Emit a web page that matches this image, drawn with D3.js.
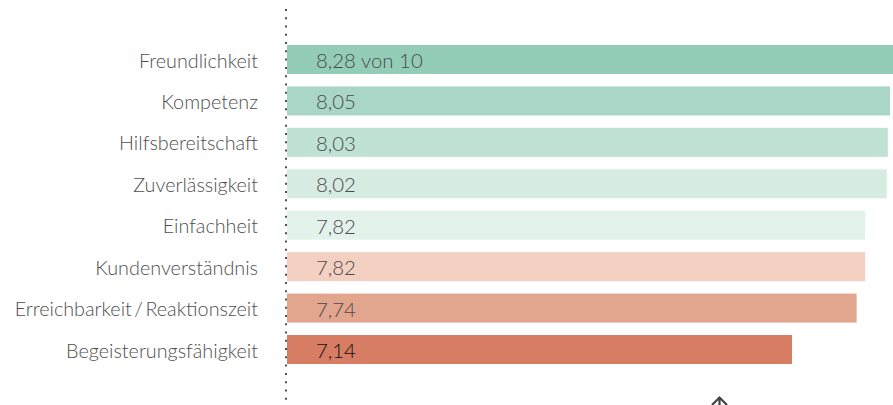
<!DOCTYPE html>
<html><head><meta charset="utf-8">
<script src="https://cdn.jsdelivr.net/npm/d3@7"></script>
<style>html,body{margin:0;padding:0;background:#fff;}svg{display:block;}</style>
</head><body>
<div id="chart"></div>
<script>
const categories = ["Freundlichkeit","Kompetenz","Hilfsbereitschaft","Zuverlässigkeit","Einfachheit","Kundenverständnis","Erreichbarkeit\u2009/\u2009Reaktionszeit","Begeisterungsfähigkeit"];
const values = [8.28, 8.05, 8.03, 8.02, 7.82, 7.82, 7.74, 7.14];
const valueSuffix = [" von 10", "", "", "", "", "", "", ""];
const colors = ["#93cdb8","#aad6c7","#c0e2d5","#d6ebe2","#e4f2ec","#f3d0c2","#e2a68f","#d67d64"];
const valueTextColors = ["#4a4a4a","#4a4a4a","#4a4a4a","#4a4a4a","#4a4a4a","#4a4a4a","#4a4a4a","#111111"];

const W = 893, H = 405;
const svg = d3.select("#chart").append("svg").attr("width", W).attr("height", H);

const x = d3.scaleLinear().domain([2.45, 10]).range([287, 1100]);
const y = d3.scaleBand().domain(categories).range([30.5, 378.5]).paddingInner(0.3).paddingOuter(0.35);
const fmt = v => d3.format(".2f")(v).replace(".", ",");

const data = categories.map((c, i) => ({c, v: values[i], s: valueSuffix[i], col: colors[i], tc: valueTextColors[i]}));

svg.append("g").selectAll("rect").data(data).join("rect")
  .attr("x", x.range()[0]).attr("y", d => y(d.c))
  .attr("width", d => x(d.v) - x.range()[0]).attr("height", y.bandwidth())
  .attr("fill", d => d.col);

// dotted axis line
svg.append("line")
  .attr("x1", 286).attr("x2", 286).attr("y1", 9).attr("y2", 400)
  .attr("stroke", "#505050").attr("stroke-width", 2)
  .attr("stroke-dasharray", "2 6.27");

// category labels
svg.append("g").selectAll("text").data(data).join("text")
  .attr("x", 258).attr("y", d => y(d.c) + y.bandwidth() / 2 + 8)
  .attr("text-anchor", "end")
  .style("font-family", "Lato, sans-serif").style("font-weight", 300).style("font-size", "19.8px")
  .attr("fill", "#4e4e4e")
  .text(d => d.c);

// value labels
svg.append("g").selectAll("text").data(data).join("text")
  .attr("x", 316).attr("y", d => y(d.c) + y.bandwidth() / 2 + 8.5)
  .style("font-family", "Lato, sans-serif").style("font-weight", 300).style("font-size", "20.4px")
  .attr("fill", d => d.tc)
  .text(d => fmt(d.v) + d.s);

// arrow icon at the bottom
svg.append("path")
  .attr("d", "M712,405 L719.5,397.5 L727,405 M719.5,397.5 L719.5,406")
  .attr("fill", "none").attr("stroke", "#444").attr("stroke-width", 2.2);
</script>
</body></html>
